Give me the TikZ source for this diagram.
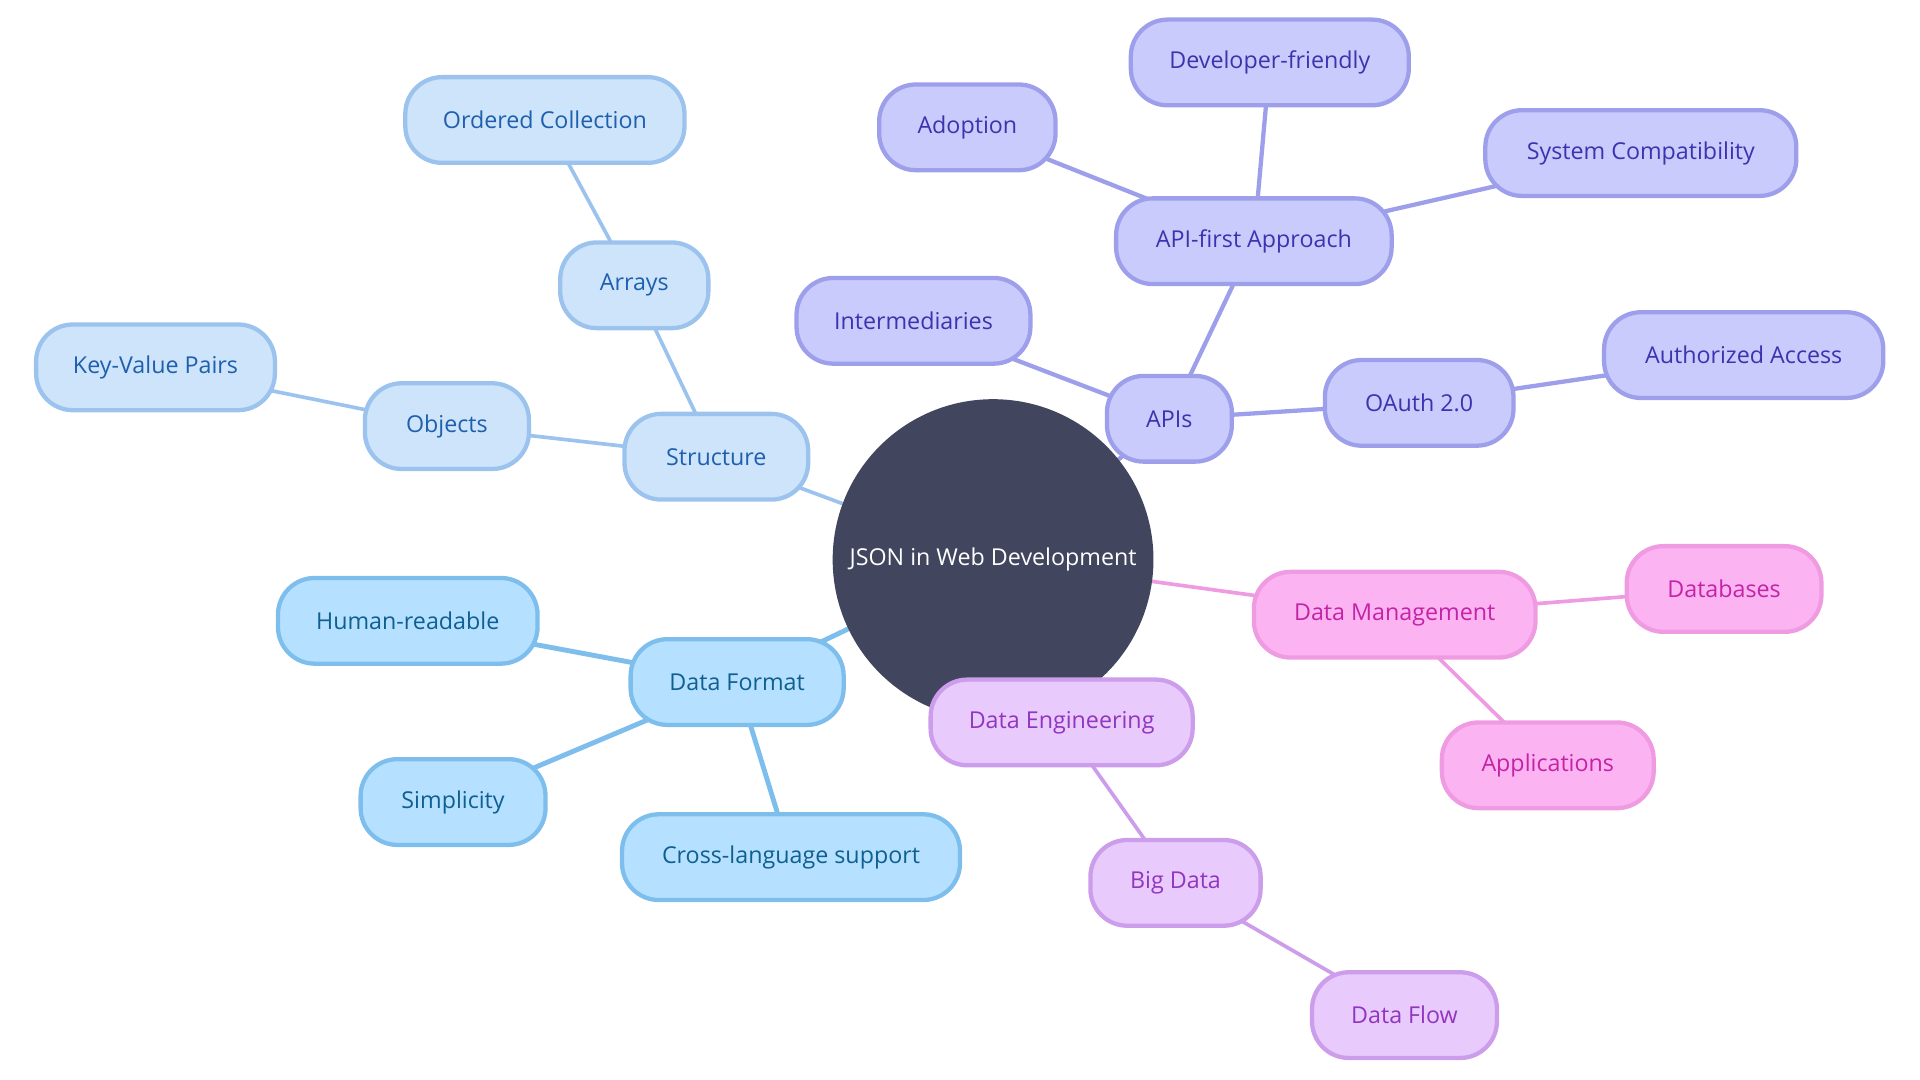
\documentclass[tikz,border=0pt]{standalone}
\usepackage{fontspec}
\setmainfont{Open Sans}
\usepackage{xcolor}
\usepackage{tikz}
\usetikzlibrary{backgrounds}

\definecolor{rootfill}{HTML}{41455E}
\definecolor{structfill}{HTML}{CDE4FB}
\definecolor{structdraw}{HTML}{9CC3EE}
\definecolor{structtext}{HTML}{1E5FAE}
\definecolor{formatfill}{HTML}{B5E0FF}
\definecolor{formatdraw}{HTML}{7DBEEC}
\definecolor{formattext}{HTML}{0F5F90}
\definecolor{apifill}{HTML}{C9CBFC}
\definecolor{apidraw}{HTML}{9D9FEB}
\definecolor{apitext}{HTML}{3A34AE}
\definecolor{mgmtfill}{HTML}{FCB3F2}
\definecolor{mgmtdraw}{HTML}{EF9BE2}
\definecolor{mgmttext}{HTML}{C423A5}
\definecolor{engfill}{HTML}{E8CAFC}
\definecolor{engdraw}{HTML}{CC9DEB}
\definecolor{engtext}{HTML}{9235C1}

\begin{document}
\begin{tikzpicture}[
      x=0.5pt, y=-0.5pt,
      rootcircle/.style={
         circle,
         fill=rootfill,
         text=white,
         inner sep=0pt,
         minimum size=131pt,
         font=\fontsize{9.5}{11}\selectfont},
      leafbox/.style={
         rounded corners=15pt,
         line width=1.75pt,
         inner sep=2pt,
         minimum height=35pt,
         font=\fontsize{9.5}{11}\selectfont},
      structbox/.style={leafbox, fill=structfill, draw=structdraw, text=structtext},
      formatbox/.style={leafbox, fill=formatfill, draw=formatdraw, text=formattext},
      apibox/.style={leafbox, fill=apifill, draw=apidraw, text=apitext},
      mgmtbox/.style={leafbox, fill=mgmtfill, draw=mgmtdraw, text=mgmttext},
      engbox/.style={leafbox, fill=engfill, draw=engdraw, text=engtext},
      structline/.style={draw=structdraw, line width=1.5pt},
      formatline/.style={draw=formatdraw, line width=2pt},
      apiline/.style={draw=apidraw, line width=1.75pt},
      mgmtline/.style={draw=mgmtdraw, line width=1.5pt},
      engline/.style={draw=engdraw, line width=1.5pt}
      ]
      \useasboundingbox (0,0) rectangle (1568,882);

      \node[rootcircle] (root) at (811,457) {JSON in Web Development};

      % structure branch
      \node[structbox, minimum width=75pt] (struct) at (585,373) {Structure};
      \node[structbox, minimum width=67pt] (objects) at (365,348) {Objects};
      \node[structbox, minimum width=97.5pt] (keyval) at (127,300) {Key-Value Pairs};
      \node[structbox, minimum width=60.5pt] (arrays) at (518,233) {Arrays};
      \node[structbox, minimum width=114pt] (ordered) at (445,98) {Ordered Collection};

      % data format branch
      \node[formatbox, minimum width=87pt] (format) at (602,557) {Data Format};
      \node[formatbox, minimum width=106pt] (human) at (333,507) {Human-readable};
      \node[formatbox, minimum width=75.5pt] (simple) at (370,655) {Simplicity};
      \node[formatbox, minimum width=138pt] (crosslang) at (646,700) {Cross-language support};

      % apis branch
      \node[apibox, minimum width=51pt] (apis) at (955,342) {APIs};
      \node[apibox, minimum width=95.5pt] (inter) at (746,262) {Intermediaries};
      \node[apibox, minimum width=77pt] (oauth) at (1159,329) {OAuth 2.0};
      \node[apibox, minimum width=114pt] (authacc) at (1424,290) {Authorized Access};
      \node[apibox, minimum width=112.5pt] (apifirst) at (1024,197) {API-first Approach};
      \node[apibox, minimum width=72pt] (adopt) at (790,104) {Adoption};
      \node[apibox, minimum width=113.5pt] (devfriend) at (1037,51) {Developer-friendly};
      \node[apibox, minimum width=127pt] (syscompat) at (1340,125) {System Compatibility};

      % data management branch
      \node[mgmtbox, minimum width=115pt] (mgmt) at (1139,502) {Data Management};
      \node[mgmtbox, minimum width=79.5pt] (dbs) at (1408,481) {Databases};
      \node[mgmtbox, minimum width=86.5pt] (apps) at (1264,625) {Applications};

      % data engineering branch
      \node[engbox, minimum width=107pt] (eng) at (867,590) {Data Engineering};
      \node[engbox, minimum width=69.5pt] (bigdata) at (960,721) {Big Data};
      \node[engbox, minimum width=75.5pt] (dataflow) at (1147,829) {Data Flow};

      \begin{scope}[on background layer]
      \foreach \i/\j/\s in {% start node/end node/line style
        root/struct/structline,
        struct/objects/structline,
        objects/keyval/structline,
        struct/arrays/structline,
        arrays/ordered/structline,
        root/format/formatline,
        format/human/formatline,
        format/simple/formatline,
        format/crosslang/formatline,
        root/apis/apiline,
        apis/inter/apiline,
        apis/oauth/apiline,
        oauth/authacc/apiline,
        apis/apifirst/apiline,
        apifirst/adopt/apiline,
        apifirst/devfriend/apiline,
        apifirst/syscompat/apiline,
        root/mgmt/mgmtline,
        mgmt/dbs/mgmtline,
        mgmt/apps/mgmtline,
        root/eng/engline,
        eng/bigdata/engline,
        bigdata/dataflow/engline}
         \draw [\s] (\i.center) -- (\j.center);
      \end{scope}
    \end{tikzpicture}
\end{document}
